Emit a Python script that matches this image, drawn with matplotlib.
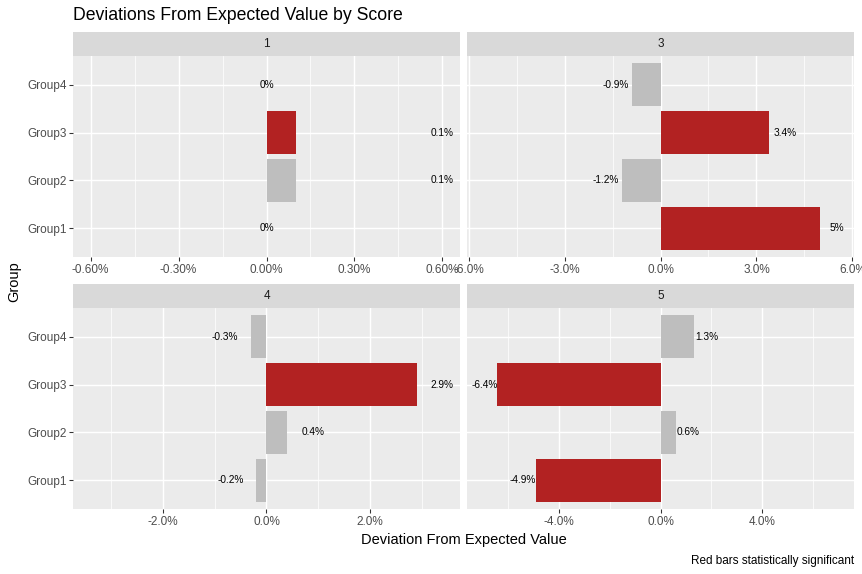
import matplotlib
matplotlib.use("Agg")
import matplotlib.pyplot as plt
import numpy as np

# ---------------- data ----------------
groups = ["Group1", "Group2", "Group3", "Group4"]
scores = ["1", "3", "4", "5"]

dev_1 = [0.0, 0.1, 0.1, 0.0]
dev_3 = [5.0, -1.2, 3.4, -0.9]
dev_4 = [-0.2, 0.4, 2.9, -0.3]
dev_5 = [-4.9, 0.6, -6.4, 1.3]

sig_1 = [False, False, True, False]
sig_3 = [True, False, True, False]
sig_4 = [False, False, True, False]
sig_5 = [True, False, True, False]

ticks_1 = [-0.6, -0.3, 0.0, 0.3, 0.6]
ticklabels_1 = ["-0.60%", "-0.30%", "0.00%", "0.30%", "0.60%"]
ticks_3 = [-6.0, -3.0, 0.0, 3.0, 6.0]
ticklabels_3 = ["-6.0%", "-3.0%", "0.0%", "3.0%", "6.0%"]
ticks_4 = [-2.0, 0.0, 2.0]
ticklabels_4 = ["-2.0%", "0.0%", "2.0%"]
ticks_5 = [-4.0, 0.0, 4.0]
ticklabels_5 = ["-4.0%", "0.0%", "4.0%"]

title = "Deviations From Expected Value by Score"
xlabel = "Deviation From Expected Value"
ylabel = "Group"
caption = "Red bars statistically significant"

# ---------------- style ----------------
W, H, DPI = 862, 574, 96
FONT = ["Liberation Sans", "DejaVu Sans"]
plt.rcParams["font.family"] = FONT

RED = "#B22222"
GREY = "#BEBEBE"
PANEL_BG = "#EBEBEB"
STRIP_BG = "#D9D9D9"
LABEL_OFFSET = 0.5

fig = plt.figure(figsize=(W / DPI, H / DPI), dpi=DPI)
fig.patch.set_facecolor("white")


def rect(l, t, r, b):
    return [l / W, 1 - b / H, (r - l) / W, (b - t) / H]


panels = [
    (scores[0], dev_1, sig_1, ticks_1, ticklabels_1, (73, 56, 460, 257), (32, 56), True),
    (scores[1], dev_3, sig_3, ticks_3, ticklabels_3, (467, 56, 854, 257), (32, 56), False),
    (scores[2], dev_4, sig_4, ticks_4, ticklabels_4, (73, 308, 460, 509), (284, 308), True),
    (scores[3], dev_5, sig_5, ticks_5, ticklabels_5, (467, 308, 854, 509), (284, 308), False),
]

ypos = np.arange(1, len(groups) + 1)

for name, vals, sig, ticks, tlabels, (l, t, r, b), (st, sb), show_y in panels:
    vals = np.array(vals)
    ax = fig.add_axes(rect(l, t, r, b))
    ax.set_facecolor(PANEL_BG)
    for s in ax.spines.values():
        s.set_visible(False)

    lab_pos = vals + np.sign(vals) * LABEL_OFFSET
    lim = 1.1 * np.max(np.abs(lab_pos))
    ax.set_xlim(-lim, lim)
    ax.set_ylim(0.4, len(groups) + 0.6)

    # grid
    step = ticks[1] - ticks[0]
    minor = np.arange(ticks[0] - step / 2, ticks[-1] + step, step)
    minor = [m for m in minor if -lim <= m <= lim]
    for m in minor:
        ax.axvline(m, color="white", lw=0.55, zorder=0.5)
    for tk in ticks:
        ax.axvline(tk, color="white", lw=1.07, zorder=0.6)
    for y in ypos:
        ax.axhline(y, color="white", lw=1.07, zorder=0.6)

    colors = [RED if s_ else GREY for s_ in sig]
    ax.barh(ypos, vals, height=0.9, color=colors, zorder=2)
    for y, v, lp in zip(ypos, vals, lab_pos):
        ax.text(lp, y, f"{v:g}%", ha="center", va="center", fontsize=7.6,
                color="black", zorder=3)

    ax.set_xticks(ticks)
    ax.set_xticklabels(tlabels)
    ax.tick_params(axis="x", length=2.75, width=0.8, color="#333333", pad=2.2,
                   labelsize=8.8, labelcolor="#4D4D4D")
    ax.set_yticks(ypos)
    if show_y:
        ax.set_yticklabels(groups)
        ax.tick_params(axis="y", length=2.75, width=0.8, color="#333333", pad=2.2,
                       labelsize=8.8, labelcolor="#4D4D4D")
    else:
        ax.tick_params(axis="y", length=0, labelleft=False)

    # strip
    sax = fig.add_axes(rect(l, st, r, sb))
    sax.set_facecolor(STRIP_BG)
    for s in sax.spines.values():
        s.set_visible(False)
    sax.set_xticks([])
    sax.set_yticks([])
    sax.text(0.5, 0.5, name, ha="center", va="center", fontsize=8.8,
             color="#1A1A1A", transform=sax.transAxes)

fig.text(73 / W, 1 - 16 / H, title, ha="left", va="center", fontsize=13.2, color="black")
fig.text(463.5 / W, 1 - 540 / H, xlabel, ha="center", va="center", fontsize=11, color="black")
fig.text(14 / W, 1 - 282 / H, ylabel, ha="center", va="center", rotation=90,
         fontsize=11, color="black")
fig.text(854 / W, 1 - 561 / H, caption, ha="right", va="center", fontsize=8.8, color="black")

fig.savefig("out.png", dpi=DPI, facecolor="white")
